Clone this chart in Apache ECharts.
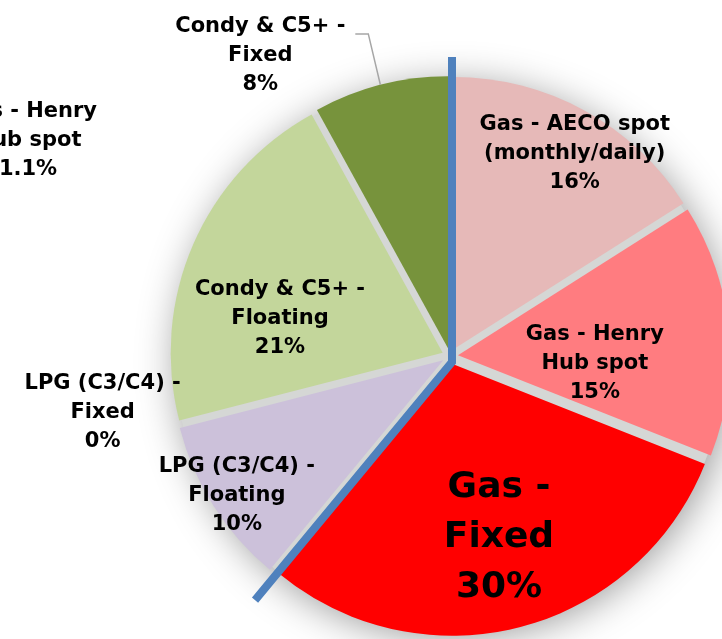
<!DOCTYPE html>
<html>
<head>
<meta charset="utf-8">
<style>
  html, body { margin: 0; padding: 0; background: #ffffff; }
  #chart { width: 722px; height: 639px; }
</style>
<script src="https://cdn.jsdelivr.net/npm/echarts@6/dist/echarts.min.js"></script>
</head>
<body>
<div id="chart"></div>
<script>
// Revenue exposure by product and pricing basis (share of total, %)
const categories = [
  'Gas - AECO spot\n(monthly/daily)',
  'Gas - Henry\nHub spot',
  'Gas -\nFixed',
  'LPG (C3/C4) -\nFloating',
  'LPG (C3/C4) -\nFixed',
  'Condy & C5+ -\nFloating',
  'Condy & C5+ -\nFixed'
];
const shares = [16, 15, 30, 10, 0, 21, 8];
const gasSliceCount = 3;   // the first three slices are gas products

// Label for the neighbouring chart that runs in from the left edge
const sideLabelName = 'Gas - Henry\nHub spot';
const sideLabelValue = 1.1;

const sliceColors = ['#e6b9b8', '#ff7c80', '#ff0000', '#ccc1da', '#b3a2c7', '#c3d69b', '#77933c'];

// Label anchor per slice: [distance from centre in px, angle clockwise from 12 o'clock]
const labelPlace = [
  [238, 31.6], [145, 92.8], [188, 164.9], [255, 236.7],
  [352, 260.7], [174, 282.3], [355, 327.7]
];

const CX = 450, CY = 356, R = 272, EXPLODE = 8;
const FONT = '"DejaVu Sans", Verdana, sans-serif';

const total = shares.reduce((a, b) => a + b, 0);
const polar = (cx, cy, r, deg) => {
  const t = deg * Math.PI / 180;
  return [cx + r * Math.sin(t), cy - r * Math.cos(t)];
};

// mid angle of each slice
const midAngles = [];
{
  let acc = 0;
  shares.forEach(v => { midAngles.push(360 * (acc + v / 2) / total); acc += v; });
}
const gasShare = shares.slice(0, gasSliceCount).reduce((a, b) => a + b, 0);
const splitAngle = 360 * gasShare / total;

const chart = echarts.init(document.getElementById('chart'), null, { renderer: 'canvas' });

const pieData = categories.map((name, i) => ({
  name,
  value: shares[i],
  selected: true,
  itemStyle: { color: sliceColors[i] },
  label: i === 2
    ? { fontSize: 36, lineHeight: 50 }
    : { fontSize: 21, lineHeight: 29 }
}));

// Leader line from the "Condy & C5+ - Fixed" label down to its slice
const cfIdx = 6;
const cfLabel = polar(CX, CY, labelPlace[cfIdx][0], labelPlace[cfIdx][1]);
const cfCenter = polar(CX, CY, EXPLODE, midAngles[cfIdx]);
const cfEdge = polar(cfCenter[0], cfCenter[1], R, midAngles[cfIdx]);
const leaderPts = [
  [cfLabel[0] + 95, cfLabel[1] - 22],
  [cfLabel[0] + 108, cfLabel[1] - 22],
  cfEdge
];

// Gas / liquids divider
const bend = [CX + 2, CY + 6];
const dividerPts = [
  [CX + 2, CY - 299],
  bend,
  polar(bend[0], bend[1], 309, splitAngle)
];

const sidePos = [28, 141];

chart.setOption({
  animation: false,
  backgroundColor: '#ffffff',
  graphic: [
    {
      type: 'polyline',
      z: 100,
      shape: { points: dividerPts },
      style: { stroke: '#4f81bd', lineWidth: 8, fill: null, lineJoin: 'miter' }
    },
    {
      type: 'polyline',
      z: 100,
      shape: { points: leaderPts },
      style: { stroke: '#a6a6a6', lineWidth: 1.5, fill: null }
    },
    {
      type: 'text',
      z: 100,
      x: sidePos[0],
      y: sidePos[1],
      style: {
        text: sideLabelName + '\n' + sideLabelValue + '%',
        font: 'bold 21px ' + FONT,
        lineHeight: 29,
        fill: '#000000',
        textAlign: 'center',
        textVerticalAlign: 'middle'
      }
    }
  ],
  series: [
    {
      // grey backing disk: shows through the gaps and casts the soft shadow
      type: 'pie',
      silent: true,
      center: [CX, CY],
      radius: R + 4,
      label: { show: false },
      labelLine: { show: false },
      emphasis: { disabled: true },
      itemStyle: {
        color: '#d5d7d5',
        shadowBlur: 40,
        shadowColor: 'rgba(0,0,0,0.42)',
        shadowOffsetX: 4,
        shadowOffsetY: 5
      },
      data: [{ value: 1, name: '' }]
    },
    {
      type: 'pie',
      center: [CX, CY],
      radius: R,
      startAngle: 90,
      clockwise: true,
      selectedMode: 'multiple',
      selectedOffset: EXPLODE,
      avoidLabelOverlap: false,
      emphasis: { disabled: true },
      itemStyle: { borderWidth: 0 },
      label: {
        show: true,
        position: 'inside',
        formatter: '{b}\n{c}%',
        fontFamily: FONT,
        fontWeight: 'bold',
        color: '#000000',
        align: 'center'
      },
      labelLine: { show: false },
      // shift each label from its default inside spot to its anchor;
      // the label also rides along with its exploded slice, so take that out
      labelLayout: function (params) {
        const i = params.dataIndex;
        const target = polar(CX, CY, labelPlace[i][0], labelPlace[i][1]);
        const shift = polar(0, 0, EXPLODE, midAngles[i]);
        const r = params.labelRect;
        const cur = [r.x + r.width / 2, r.y + r.height / 2];
        return {
          dx: target[0] - cur[0] - shift[0],
          dy: target[1] - cur[1] - shift[1]
        };
      },
      data: pieData
    }
  ]
});
</script>
</body>
</html>
